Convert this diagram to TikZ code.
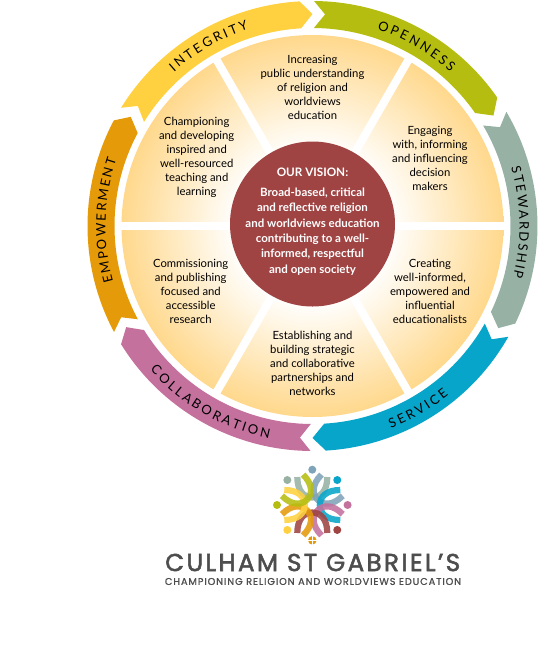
\documentclass[tikz,border=0pt]{standalone}
\usepackage{fontspec}
\usetikzlibrary{decorations.text}
\setmainfont{Lato}
\newfontfamily\logofont[LetterSpace=10,FakeBold=2.2]{Poppins}
\newfontfamily\logosubfont[LetterSpace=9,FakeBold=1]{Poppins}

\definecolor{ringyellow}{HTML}{FFD140}
\definecolor{ringolive}{HTML}{B5BD10}
\definecolor{ringsage}{HTML}{97B2A4}
\definecolor{ringblue}{HTML}{08A5CA}
\definecolor{ringpink}{HTML}{C4719E}
\definecolor{ringorange}{HTML}{E59A0A}
\definecolor{visionred}{HTML}{9F4343}
\definecolor{wedgepeach}{HTML}{FFD88C}
\definecolor{logosteel}{HTML}{7FA3B8}
\definecolor{logogrey}{HTML}{4D4D4D}

\pgfdeclareradialshading{wedgeglow}{\pgfpoint{0bp}{0bp}}{%
  color(0bp)=(white); color(10bp)=(white); color(25bp)=(wedgepeach); color(50bp)=(wedgepeach)}

\tikzset{
  wedgetext/.style={align=center,inner sep=0pt,font=\fontsize{11.3}{14}\selectfont},
  visiontext/.style={align=center,inner sep=0pt,text=white,font=\fontsize{11.5}{15.4}\selectfont\bfseries},
  spoke/.style={draw=white,line width=8pt},
  petal/.style={line width=6.2pt,opacity=0.88},
}

% #1 colour, #2 tail, #3 notch, #4 head base, #5 tip (degrees)
\newcommand{\ringarrow}[5]{%
  \fill[#1] (#2:225) arc[start angle=#2,end angle=#4,radius=225] -- (#5:212)
    -- (#4:198) arc[start angle=#4,end angle=#2,radius=198] -- (#3:212) -- cycle;}
% #1 spaced letters, #2 start, #3 end, #4 baseline radius
\newcommand{\ringlabel}[4]{%
  \path[decorate,decoration={text along path,text align=center,
    text={|\fontsize{13}{15}\selectfont|#1}}]
    (#2:#4) arc[start angle=#2,end angle=#3,radius=#4];}
\newcommand{\ls}{\kern2.6pt}
\newcommand{\lsb}{\kern2pt}

\begin{document}
\begin{tikzpicture}[x=1pt, y=-1pt]

  %% ==== wedges ====
  \shade[shading=wedgeglow] (312.5,226) circle[radius=191];
  \begin{scope}[shift={(312.5,226)},y=1pt]
    \foreach \a/\b in {0/180,60/240,120/300}
      \draw[spoke] (\a:195) -- (\b:195);

    %% ==== ring ====
    \ringarrow{ringyellow}{148.3}{145.5}{93.3}{90}
    \ringarrow{ringolive}{89.6}{86.6}{34.8}{31.4}
    \ringarrow{ringsage}{30.5}{27.8}{-25.7}{-28.8}
    \ringarrow{ringblue}{-29.5}{-32.3}{-86.6}{-90}
    \ringarrow{ringpink}{-90.5}{-93.4}{-148.3}{-151.5}
    \ringarrow{ringorange}{208.1}{205.5}{152}{149}

    \ringlabel{{I\ls}{N\ls}{T\ls}{E\ls}{G\ls}{R\ls}{I\ls}{T\ls}{Y}}{150}{90}{207}
    \ringlabel{{O\ls}{P\ls}{E\ls}{N\ls}{N\ls}{E\ls}{S\ls}{S}}{90}{30}{207}
    \ringlabel{{S\lsb}{T\lsb}{E\lsb}{W\lsb}{A\lsb}{R\lsb}{D\lsb}{S\lsb}{H\lsb}{I\lsb}{P}}{31}{-29}{207}
    \ringlabel{{S\ls}{E\ls}{R\ls}{V\ls}{I\ls}{C\ls}{E}}{-90}{-30}{217}
    \ringlabel{{C\ls}{O\ls}{L\ls}{L\ls}{A\ls}{B\ls}{O\ls}{R\ls}{A\ls}{T\ls}{I\ls}{O\ls}{N}}{210}{270}{217}
    \ringlabel{{E\lsb}{M\lsb}{P\lsb}{O\lsb}{W\lsb}{E\lsb}{R\lsb}{M\lsb}{E\lsb}{N\lsb}{T}}{208.5}{148.5}{207}
  \end{scope}

  %% ==== centre ====
  \fill[visionred] (312.5,224) circle[radius=82.5];
  \node[visiontext,font=\fontsize{11.7}{15}\selectfont\bfseries] (visionhead) at (312.5,172) {OUR VISION:};
  \node[visiontext] (visionbody) at (312.5,231.5) {Broad-based, critical\\and reflective religion\\and worldviews education\\contributing to a well-\\informed, respectful\\and open society};

  %% ==== wedge labels ====
  \node[wedgetext] (increasing) at (312.5,87) {Increasing\\public understanding\\of religion and\\worldviews\\education};
  \node[wedgetext] (engaging) at (430,158) {Engaging\\with, informing\\and influencing\\decision\\makers};
  \node[wedgetext] (creating) at (430,291) {Creating\\well-informed,\\empowered and\\influential\\educationalists};
  \node[wedgetext] (establishing) at (312.5,363) {Establishing and\\building strategic\\and collaborative\\partnerships and\\networks};
  \node[wedgetext] (commissioning) at (190.7,291) {Commissioning\\and publishing\\focused and\\accessible\\research};
  \node[wedgetext] (championing) at (196.7,157) {Championing\\and developing\\inspired and\\well-resourced\\teaching and\\learning};

  %% ==== logo ====
  \begin{scope}[shift={(312.3,505)},y=1pt]
    \foreach \d/\c in {90/ringsage,45/logosteel,0/ringblue,-45/ringpink,-90/visionred,-135/ringorange,180/ringyellow,135/ringolive}
      \draw[petal,draw=\c,rotate=\d-90] (-15,28) .. controls (-15,14) and (-8,7.5) .. (0,7.5) .. controls (8,7.5) and (15,14) .. (15,28);
    \fill[white] (0,0) circle[radius=4];
    \foreach \d/\c in {90/logosteel,45/ringblue,0/ringpink,-45/visionred,-135/ringyellow,180/ringolive,135/ringsage}
      \fill[\c] (\d:35.3) circle[radius=4];
    \fill[ringorange] (-90:35.3) circle[radius=4.3];
    \draw[white,line width=0.7pt] (0,-31) -- (0,-39.6) (-4.3,-35.3) -- (4.3,-35.3);
  \end{scope}
  \node[inner sep=0pt,text=logogrey,font=\fontsize{24.5}{26}\logofont] (logoname) at (312.7,562.5) {CULHAM ST GABRIEL’S};
  \node[inner sep=0pt,text=logogrey,font=\fontsize{9.8}{12}\logosubfont] (logotag) at (313,581.5) {CHAMPIONING RELIGION AND WORLDVIEWS EDUCATION};

  % fix the canvas
  \pgfresetboundingbox
  \path[use as bounding box] (0,0) rectangle (547,657);
\end{tikzpicture}
\end{document}
